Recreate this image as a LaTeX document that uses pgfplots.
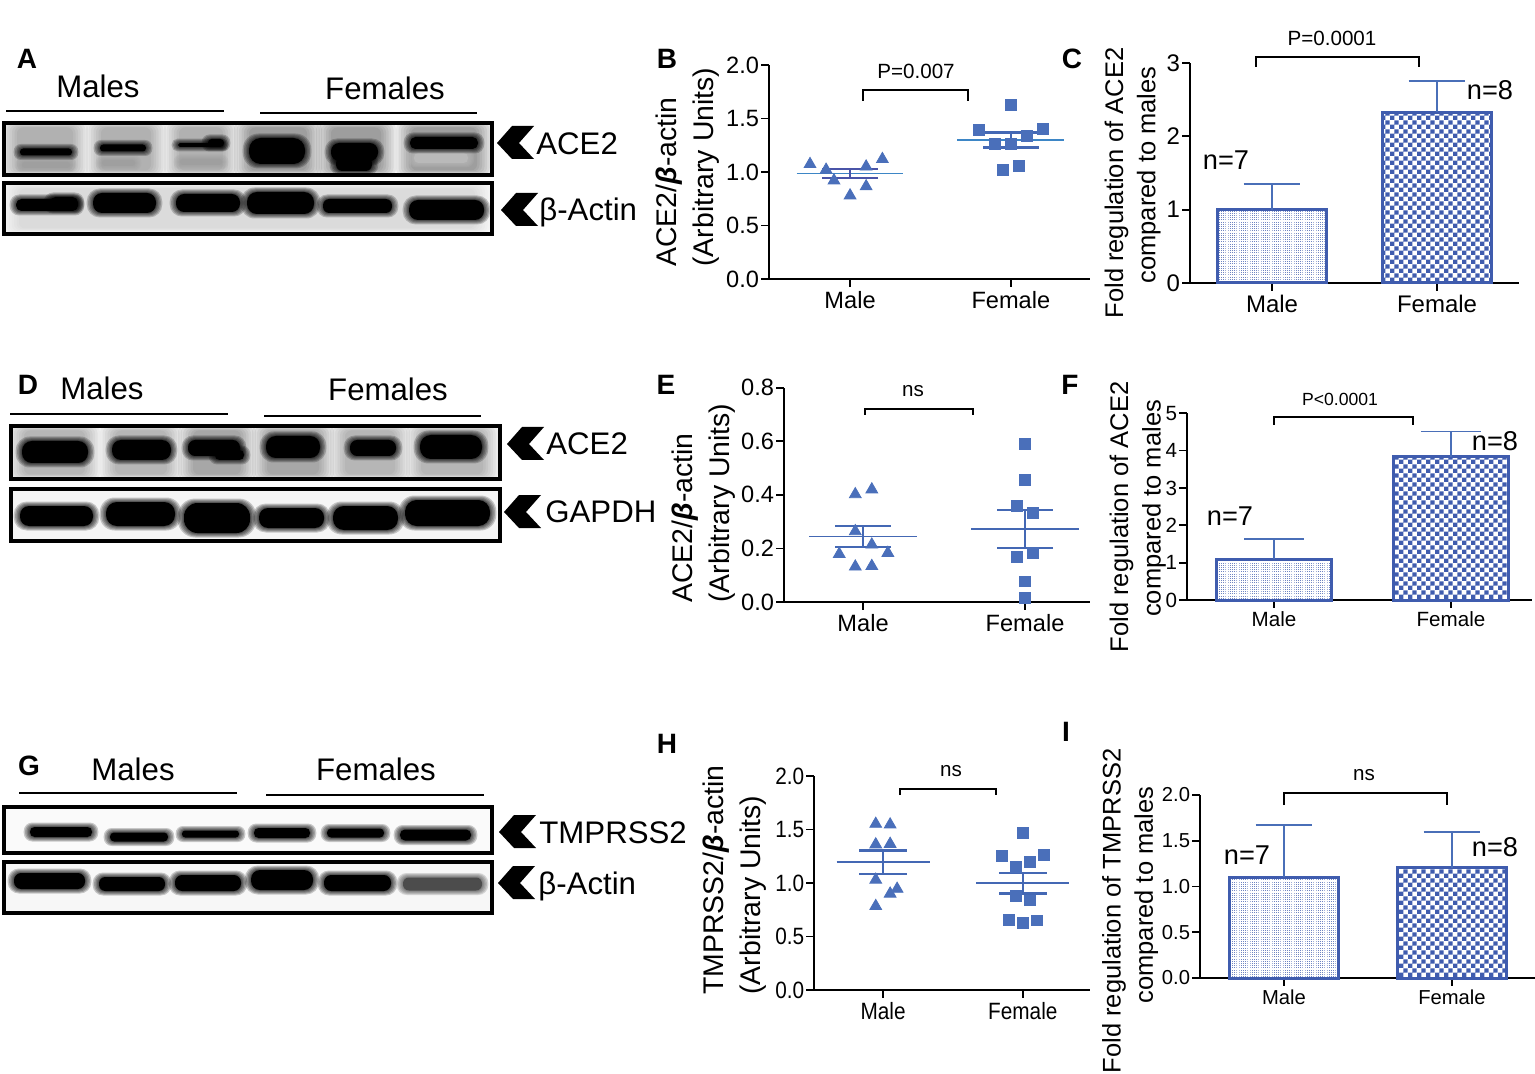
\documentclass[border=0pt]{standalone}
\usepackage{fontspec}
\setmainfont{Liberation Sans}
\usepackage{pgfplots}
\pgfplotsset{compat=1.18}
\usetikzlibrary{patterns}

\definecolor{markblue}{HTML}{4A6FBA}
\definecolor{lineblue}{HTML}{4468B4}
\definecolor{barblue}{HTML}{3F5CAE}
\definecolor{errblue}{HTML}{4A6FB8}
\definecolor{meanB}{HTML}{3D86C6}
\definecolor{semB}{HTML}{4A54A8}

% bar fills
\pgfdeclarepatternformonly{finedots}{\pgfqpoint{0pt}{0pt}}{\pgfqpoint{.5pt}{.5pt}}{\pgfqpoint{1.1pt}{1.1pt}}{%
  \pgfpathrectangle{\pgfqpoint{0pt}{0pt}}{\pgfqpoint{.5pt}{.5pt}}\pgfusepath{fill}}
\pgfdeclarepatternformonly{finecheck}{\pgfqpoint{0pt}{0pt}}{\pgfqpoint{4.4pt}{4.4pt}}{\pgfqpoint{4.4pt}{4.4pt}}{%
  \pgfpathrectangle{\pgfqpoint{0pt}{0pt}}{\pgfqpoint{2.2pt}{2.2pt}}%
  \pgfpathrectangle{\pgfqpoint{2.2pt}{2.2pt}}{\pgfqpoint{2.2pt}{2.2pt}}\pgfusepath{fill}}

\newcommand{\fs}[1]{\fontsize{#1}{#1}\selectfont}

\tikzset{
  scatterlabel/.style={align=left, anchor=west, inner sep=0pt, font=\fontsize{14.2}{18.6}\selectfont},
  barlabel/.style={align=center, anchor=center, inner sep=0pt, font=\fontsize{12.75}{16.2}\selectfont},
}
\pgfplotsset{
  panel/.style={
    scale only axis, anchor=south west, clip=false,
    axis x line*=bottom, axis y line*=left,
    axis line style={-, line width=.85pt},
    tick align=outside, major tick length=3.8pt,
    tick style={black, line width=.85pt},
    xtick={1,2}, xticklabels={Male,Female},
    /pgf/number format/assume math mode=true,
    yticklabel style={/pgf/number format/.cd, fixed, fixed zerofill, precision=1},
    tick label style={inner sep=1pt},
    xticklabel style={yshift=-1pt},
    ymin=0,
  },
  tri/.style={only marks, mark=triangle*, mark size=3.4pt, color=markblue},
  sqr/.style={only marks, mark=square*, mark size=2.7pt, color=markblue},
  mean/.style={color=lineblue, line width=.8pt},
  sem/.style={mark=none, color=lineblue, line width=1.1pt,
    error bars/y dir=both, error bars/y explicit,
    error bars/error bar style={line width=1.1pt},
    error bars/error mark options={rotate=90, mark size=14pt, line width=1.1pt}},
  barA/.style={ybar, bar width=54.5pt, bar shift=0pt, draw=barblue, line width=1.5pt,
    pattern=finedots, pattern color=barblue!75,
    error bars/y dir=plus, error bars/y explicit,
    error bars/error bar style={draw=errblue, line width=.9pt, solid},
    error bars/error mark options={draw=errblue, rotate=90, mark size=14.2pt, line width=.9pt}},
  barB/.style={barA, pattern=finecheck, pattern color=barblue},
}

% blot drawing, coordinates in image pixels
\newcommand{\blotbg}[5][gray!14]{\fill[#1] (#2,#3) rectangle (#4,#5);}
\newcommand{\blotbox}[4]{\draw[black, line width=1.75pt] (#1+2,#2+2) rectangle (#3-2,#4-2);}
\newcommand{\band}[5][black]{%
  \foreach \k in {4.5,3.5,2.5,1.5,.75}{%
    \pgfmathsetmacro\rc{(#5+\k+1)*0.45}%
    \fill[#1, opacity=.2, rounded corners=\rc pt] (#2-2-1.4*\k,#4-#5-1-\k) rectangle (#3+2+1.4*\k,#4+#5+1+\k);}
  \pgfmathsetmacro\rc{(#5+1)*0.45}%
  \fill[#1, rounded corners=\rc pt] (#2-2,#4-#5-1) rectangle (#3+2,#4+#5+1);}
\newcommand{\smear}[5]{%
  \foreach \k in {0,2.5,5,7.5,10,12.5,15}{\fill[black, opacity=#5, rounded corners=3pt] (#1+\k,#3+0.3*\k) rectangle (#2-\k,#4-0.3*\k);}}
\newcommand{\chev}[2]{\fill[black] (#1+37,#2-17)--(#1+15,#2-17)--(#1,#2)--(#1+15,#2+16)--(#1+37,#2+16)--(#1+22,#2)--cycle;}
\newcommand{\bracket}[4]{\draw[black, line width=.85pt] (#1,#4)--(#1,#3)--(#2,#3)--(#2,#4);}
\newcommand{\lab}[3]{\node[font=\fontsize{14}{15}\bfseries, anchor=center, inner sep=0pt] at (#1,#2) {#3};}
\newcommand{\grp}[3]{\node[font=\fs{15.6}, anchor=center, inner sep=0pt] at (#1,#2) {#3};}
\newcommand{\side}[3]{\node[font=\fs{15.6}, anchor=west, inner sep=0pt] at (#1,#2) {#3};}
\newcommand{\pval}[3]{\node[font=\fs{10.3}, anchor=center, inner sep=0pt] at (#1,#2) {#3};}
\newcommand{\nn}[3]{\node[font=\fs{13.6}, anchor=center, inner sep=0pt] at (#1,#2) {#3};}

\begin{document}
\begin{tikzpicture}

\path[use as bounding box] (0,0) rectangle (767.5pt,-537pt);

% ---- B
\begin{axis}[panel, at={(769*0.5pt,-279*0.5pt)}, width=160.5pt, height=107pt,
  xmin=0.496, xmax=2.492, ymax=2, ytick={0,0.5,1,1.5,2},
  tick label style={font=\fs{11.8}},
  ylabel={ACE2/{\bfseries\itshape β}-actin\\(Arbitrary Units)},
  ylabel style={scatterlabel, at={(axis description cs:-0.2525,0.056)}},
]
\addplot[tri] coordinates {(0.751,1.073)(0.851,1.02)(1.10,1.05)(1.201,1.12)(0.90,0.92)(1.10,0.865)(1.0,0.78)};
\addplot[sqr] coordinates {(2,1.63)(1.80,1.393)(2.20,1.40)(2.10,1.34)(1.90,1.263)(2,1.263)(2.05,1.054)(1.95,1.02)};
\addplot[mean, color=meanB] coordinates {(0.668,0.986)(1.332,0.986)};
\addplot[mean, color=meanB] coordinates {(1.668,1.297)(2.332,1.297)};
\addplot[sem, color=semB] coordinates {(1,0.988) +- (0,0.043)};
\addplot[sem, color=lineblue] coordinates {(2,1.299) +- (0,0.07)};
\end{axis}

% ---- C
\begin{axis}[panel, at={(1190*0.5pt,-283*0.5pt)}, width=164.5pt, height=110pt,
  xmin=0.503, xmax=2.497, ymax=3, ytick={0,1,2,3},
  yticklabel style={/pgf/number format/precision=0},
  tick label style={font=\fs{12}},
  ylabel={Fold regulation of ACE2\\\hspace*{8pt}compared to males},
  ylabel style={barlabel, at={(axis description cs:-0.1743,0.4545)}},
]
\addplot[barA] coordinates {(1,1.0) +- (0,0.35)};
\addplot[barB] coordinates {(2,2.33) +- (0,0.43)};
\end{axis}

% ---- E
\begin{axis}[panel, at={(784*0.5pt,-602*0.5pt)}, width=153pt, height=107.15pt,
  xmin=0.512, xmax=2.401, ymax=0.8, ytick={0,0.2,0.4,0.6,0.8},
  tick label style={font=\fs{11.8}},
  ylabel={ACE2/{\bfseries\itshape β}-actin\\(Arbitrary Units)},
  ylabel style={scatterlabel, at={(axis description cs:-0.263,-0.004)}},
]
\addplot[tri] coordinates {(0.952,0.402)(1.054,0.42)(0.952,0.264)(1.054,0.214)(0.853,0.179)(1.153,0.183)(0.952,0.132)(1.054,0.134)};
\addplot[sqr] coordinates {(2,0.59)(2,0.455)(1.95,0.36)(2.05,0.333)(1.95,0.169)(2.05,0.182)(2,0.077)(2,0.015)};
\addplot[mean] coordinates {(0.668,0.245)(1.332,0.245)};
\addplot[mean] coordinates {(1.668,0.272)(2.332,0.272)};
\addplot[sem] coordinates {(1,0.245) +- (0,0.04)};
\addplot[sem] coordinates {(2,0.2725) +- (0,0.0695)};
\end{axis}

% ---- F
\begin{axis}[panel, at={(1187*0.5pt,-600*0.5pt)}, width=172.5pt, height=93.35pt,
  xmin=0.508, xmax=2.458, ymax=5, ytick={0,1,2,3,4,5},
  yticklabel style={/pgf/number format/precision=0},
  tick label style={font=\fs{10.3}},
  ylabel={Fold regulation of ACE2\\\hspace*{8.5pt}compared to males},
  ylabel style={barlabel, at={(axis description cs:-0.1428,0.445)}},
  barA/.append style={bar width=57.5pt, error bars/error mark options={draw=errblue, rotate=90, mark size=15pt, line width=.9pt}},
  barB/.append style={bar width=57.5pt, error bars/error mark options={draw=errblue, rotate=90, mark size=15pt, line width=.9pt}},
]
\addplot[barA] coordinates {(1,1.09) +- (0,0.535)};
\addplot[barB] coordinates {(2,3.84) +- (0,0.67)};
\end{axis}

% ---- H
\begin{axis}[panel, at={(814*0.5pt,-990*0.5pt)}, width=138pt, height=107pt,
  xmin=0.505, xmax=2.481, ymax=2, ytick={0,0.5,1,1.5,2},
  tick label style={font=\fs{11.8}, xscale=.88},
  ylabel={TMPRSS2/{\bfseries\itshape β}-actin\\(Arbitrary Units)},
  ylabel style={scatterlabel, at={(axis description cs:-0.288,-0.023)}},
  sem/.append style={error bars/error mark options={rotate=90, mark size=12pt, line width=1.1pt}},
]
\addplot[tri] coordinates {(0.947,1.552)(1.05,1.546)(0.947,1.36)(1.05,1.365)(0.947,1.03)(1.10,0.945)(1.05,0.90)(0.947,0.784)};
\addplot[sqr] coordinates {(2,1.465)(1.85,1.25)(2.153,1.266)(2.05,1.194)(1.95,1.154)(1.95,0.877)(2.05,0.837)(1.90,0.656)(2.10,0.65)(2,0.625)};
\addplot[mean] coordinates {(0.667,1.194)(1.333,1.194)};
\addplot[mean] coordinates {(1.667,0.998)(2.333,0.998)};
\addplot[sem] coordinates {(1,1.1945) +- (0,0.1085)};
\addplot[sem] coordinates {(2,0.9985) +- (0,0.0965)};
\end{axis}

% ---- I
\begin{axis}[panel, at={(1200*0.5pt,-978*0.5pt)}, width=167.5pt, height=91.5pt,
  xmin=0.5, xmax=2.494, ymax=2, ytick={0,0.5,1,1.5,2},
  tick label style={font=\fs{10.1}},
  ylabel={Fold regulation of TMPRSS2\\\hspace*{16pt}compared to males},
  ylabel style={barlabel, at={(axis description cs:-0.2084,0.366)}},
]
\addplot[barA] coordinates {(1,1.10) +- (0,0.57)};
\addplot[barB] coordinates {(2,1.207) +- (0,0.39)};
\end{axis}

\begin{scope}[x=0.5pt, y=-0.5pt]

% ---- blot A
\blotbg[gray!8]{2}{121}{494}{177}
\smear{2}{88}{123}{175}{.045}\smear{86}{166}{123}{175}{.045}\smear{164}{238}{123}{175}{.045}
\smear{234}{322}{123}{175}{.06}\smear{316}{396}{123}{175}{.06}\smear{396}{492}{123}{175}{.06}
\band[gray!75]{24}{68}{165}{2}\band[gray!75]{104}{133}{163}{2}\band[gray!75]{182}{220}{162}{2}
\band[gray!55]{416}{466}{158}{4}
\band{22}{70}{152}{2.5}\band{102}{144}{148}{2.5}\band{180}{220}{145}{.8}\band{210}{222}{143}{3}
\band{251}{303}{151}{12}\band{333}{376}{152}{8}\band{338}{370}{164}{6}\band{412}{476}{143}{5}
\blotbox{2}{121}{494}{177}
\blotbg[gray!6]{2}{181}{494}{236}
\smear{4}{490}{184}{233}{.015}
\band{18}{76}{205}{5}\band{52}{76}{203}{5}\band{95}{154}{203}{9}\band{178}{238}{203}{8}
\band{249}{312}{203}{10}\band{325}{390}{206}{6}\band{411}{482}{210}{9}
\blotbox{2}{181}{494}{236}

% ---- blot D
\blotbg[gray!8]{9}{424}{502}{481}
\smear{9}{100}{426}{479}{.04}\smear{100}{182}{426}{479}{.04}\smear{178}{256}{426}{479}{.05}
\smear{252}{334}{426}{479}{.05}\smear{330}{410}{426}{479}{.04}\smear{406}{498}{426}{479}{.04}
\band{24}{86}{452}{10}\band{114}{169}{450}{9}\band{190}{238}{448}{7}\band{217}{242}{455}{4}
\band{268}{318}{447}{10}\band{352}{394}{448}{7}\band{422}{480}{447}{11}
\blotbox{9}{424}{502}{481}
\blotbg[gray!8]{9}{487}{502}{543}
\band{22}{91}{516}{9}\band{108}{173}{514}{11}\band{186}{248}{518}{14}
\band{261}{322}{518}{9}\band{335}{396}{518}{11}\band{407}{488}{513}{12}
\blotbox{9}{487}{502}{543}

% ---- blot G
\blotbg[gray!4]{2}{805}{494}{855}
\band{32}{90}{832}{4}\band{112}{166}{837}{3.5}\band{184}{237}{834}{2.5}
\band{256}{308}{833}{4}\band{329}{382}{833}{3.5}\band{402}{469}{835}{4.5}
\blotbox{2}{805}{494}{855}
\blotbg[gray!6]{2}{860}{494}{915}
\band{16}{83}{881}{7}\band{101}{163}{884}{6}\band{177}{239}{883}{7}
\band{253}{311}{880}{9}\band{326}{389}{883}{7}\band[black!70]{405}{480}{884}{5.5}
\blotbox{2}{860}{494}{915}

% ---- group lines and names
\draw[black, line width=1pt] (6,111)--(224,111) (260,113)--(477,113);
\draw[black, line width=1pt] (10,414)--(228,414) (264,416)--(481,416);
\draw[black, line width=1pt] (19,793)--(237,793) (266,795)--(484,795);
\grp{98}{86}{Males}\grp{385}{88}{Females}
\grp{102}{388}{Males}\grp{388}{389}{Females}
\grp{133}{769}{Males}\grp{376}{769}{Females}

% ---- arrows and protein names
\chev{497}{143}\side{536}{144}{ACE2}
\chev{501}{210}\side{539}{212}{β-Actin}
\chev{507}{444}\side{546}{444}{ACE2}
\chev{504}{512}\side{545}{512}{GAPDH}
\chev{499}{832}\side{539}{833}{TMPRSS2}
\chev{498}{883}\side{538}{886}{β-Actin}

% ---- panel letters
\lab{27}{59}{A}\lab{667}{59}{B}\lab{1072}{59}{C}
\lab{28}{385}{D}\lab{666}{385}{E}\lab{1070}{385}{F}
\lab{29}{766}{G}\lab{667}{744}{H}\lab{1066}{732}{I}

% ---- brackets, p values, n
\bracket{863}{968}{90}{101}\pval{916}{71}{P=0.007}
\bracket{1256}{1419}{57}{67}\pval{1332}{38}{P=0.0001}
\bracket{865}{973}{409}{415}\pval{913}{391}{ns}
\bracket{1274}{1413}{417}{425}\node[font=\fs{8.8}, inner sep=0pt] at (1340,399) {P<0.0001};
\bracket{900}{996}{789}{795}\pval{951}{771}{ns}
\bracket{1284}{1447}{793}{805}\pval{1364}{775}{ns}
\nn{1226}{160}{n=7}\nn{1490}{90}{n=8}
\nn{1230}{516}{n=7}\nn{1495}{441}{n=8}
\nn{1247}{855}{n=7}\nn{1495}{847}{n=8}

\end{scope}
\end{tikzpicture}
\end{document}
